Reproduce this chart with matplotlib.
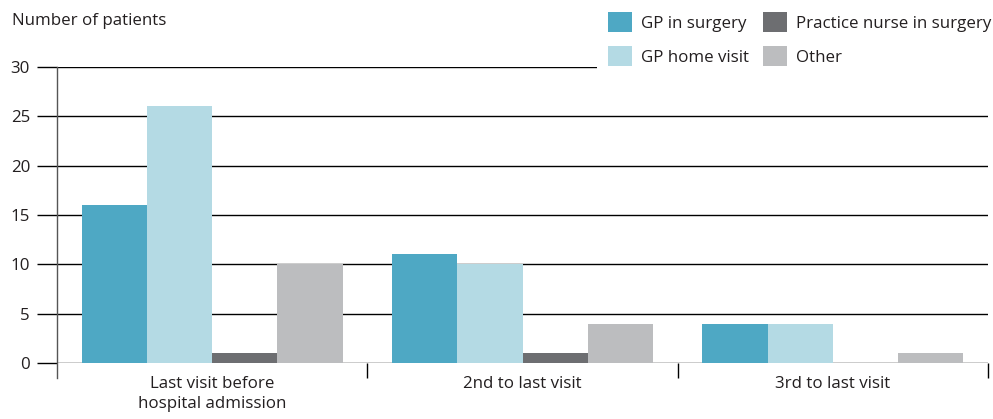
import numpy as np
import matplotlib
matplotlib.use("Agg")
import matplotlib.pyplot as plt

plt.rcParams['font.family'] = ['Open Sans', 'DejaVu Sans']

# data
categories = ['Last visit before\nhospital admission', '2nd to last visit', '3rd to last visit']
series_names = ['GP in surgery', 'GP home visit', 'Practice nurse in surgery', 'Other']
gp_surgery = [16, 11, 4]
gp_home = [26, 10, 4]
nurse_surgery = [1, 1, 0]
other = [10, 4, 1]
colors = ['#4EA8C4', '#B4DAE4', '#6D6E71', '#BCBDBF']
y_ticks = [0, 5, 10, 15, 20, 25, 30]

text_color = '#231F20'
fs = 12.2

fig = plt.figure(figsize=(9.93, 4.19), dpi=100)
ax = fig.add_axes([57 / 993, 1 - 363 / 419, (988 - 57) / 993, (363 - 67) / 419])

x = np.arange(len(categories))
width = 0.21
series = [gp_surgery, gp_home, nurse_surgery, other]
for i, (vals, name, col) in enumerate(zip(series, series_names, colors)):
    ax.bar(x + (i - 1.5) * width, vals, width, color=col, label=name, zorder=3)

ax.set_xlim(-0.5, len(categories) - 0.5)
ax.set_ylim(0, 30)

# horizontal gridlines that also reach out as tick marks
ax.set_yticks(y_ticks)
ax.yaxis.grid(True, color='black', linewidth=1.0, zorder=1)
ax.set_axisbelow(True)
ax.tick_params(axis='y', length=14.4, width=1.0, color='black', pad=5,
               labelsize=fs, labelcolor=text_color)

# x labels centred under groups, separator ticks at group edges
ax.set_xticks(x)
ax.set_xticklabels(categories, linespacing=1.35)
ax.tick_params(axis='x', which='major', length=0, pad=9.5, labelsize=fs, labelcolor=text_color)
ax.set_xticks(np.arange(len(categories)) + 0.5, minor=True)
ax.tick_params(axis='x', which='minor', length=10.5, width=1.0, color='black', direction='out')

for s in ax.spines.values():
    s.set_visible(False)

# y axis line running a bit below the zero line
ax.axvline(-0.5, ymin=-0.05, ymax=1, color='#555555', linewidth=1.0, clip_on=False, zorder=4)

fig.text(12 / 993, 1 - 21 / 419, 'Number of patients', fontsize=fs, color=text_color,
         va='center', ha='left')

leg = ax.legend(ncol=2, loc='upper left', bbox_to_anchor=(597 / 993, 1 - 1 / 419),
                bbox_transform=fig.transFigure, fontsize=fs, frameon=True,
                handlelength=1.42, handleheight=1.42, handletextpad=0.54,
                columnspacing=0.78, labelspacing=0.84, borderpad=0.66,
                borderaxespad=0)
leg.get_frame().set_facecolor('white')
leg.get_frame().set_edgecolor('none')
leg.get_frame().set_alpha(1)
leg.get_frame().set_boxstyle('square', pad=0)
for t in leg.get_texts():
    t.set_color(text_color)

fig.savefig('out.png', dpi=100)
